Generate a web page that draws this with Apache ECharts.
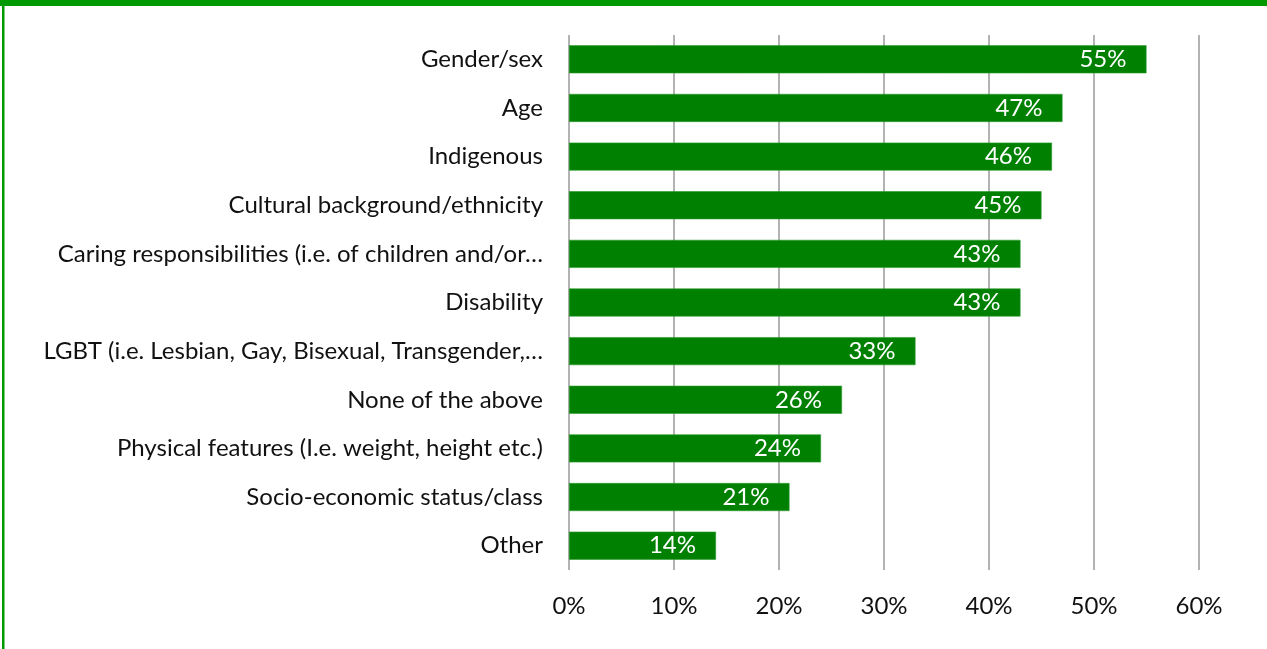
<!DOCTYPE html>
<html>
<head>
<meta charset="utf-8">
<script src="https://cdn.jsdelivr.net/npm/echarts@6/dist/echarts.min.js"></script>
<style>
  html, body { margin: 0; padding: 0; background: #fff; }
  #chart { width: 1267px; height: 649px; }
</style>
</head>
<body>
<div id="chart"></div>
<script>
// Survey categories, top to bottom as drawn
const categories = [
  'Gender/sex',
  'Age',
  'Indigenous',
  'Cultural background/ethnicity',
  'Caring responsibilities (i.e. of children and/or…',
  'Disability',
  'LGBT (i.e. Lesbian, Gay, Bisexual, Transgender,…',
  'None of the above',
  'Physical features (I.e. weight, height etc.)',
  'Socio-economic status/class',
  'Other'
];
// Share of respondents, percent
const values = [55, 47, 46, 45, 43, 43, 33, 26, 24, 21, 14];
// X axis ticks, percent
const xTicks = [0, 10, 20, 30, 40, 50, 60];

const FONT = 'Lato, "Open Sans", sans-serif';
const chart = echarts.init(document.getElementById('chart'), null, { renderer: 'canvas' });

chart.setOption({
  backgroundColor: '#ffffff',
  animation: false,
  grid: { left: 569, right: 68, top: 35, bottom: 79, containLabel: false },
  xAxis: {
    type: 'value',
    min: xTicks[0],
    max: xTicks[xTicks.length - 1],
    interval: xTicks[1] - xTicks[0],
    axisLine: { show: false },
    axisTick: { show: false },
    splitLine: { show: true, lineStyle: { color: '#9a9a9a', width: 1.5 } },
    axisLabel: {
      formatter: v => v + '%',
      color: '#111',
      fontFamily: FONT,
      fontSize: 24,
      margin: 24
    }
  },
  yAxis: {
    type: 'category',
    inverse: true,
    data: categories,
    axisLine: { show: false },
    axisTick: { show: false },
    splitLine: { show: false },
    axisLabel: {
      color: '#111',
      fontFamily: FONT,
      fontSize: 24,
      margin: 26
    }
  },
  series: [{
    type: 'bar',
    data: values,
    barWidth: 28,
    itemStyle: { color: '#008000', borderColor: '#2a9a2a', borderWidth: 0.6 },
    label: {
      show: true,
      position: 'insideRight',
      distance: 20,
      formatter: p => p.value + '%',
      color: '#ffffff',
      fontFamily: FONT,
      fontSize: 24
    }
  }],
  graphic: [
    { type: 'rect', left: 0, top: 0, shape: { width: 1267, height: 6 }, style: { fill: '#009900' }, silent: true },
    { type: 'rect', left: 2, top: 0, shape: { width: 2.5, height: 649 }, style: { fill: '#009900' }, silent: true }
  ]
});
</script>
</body>
</html>
